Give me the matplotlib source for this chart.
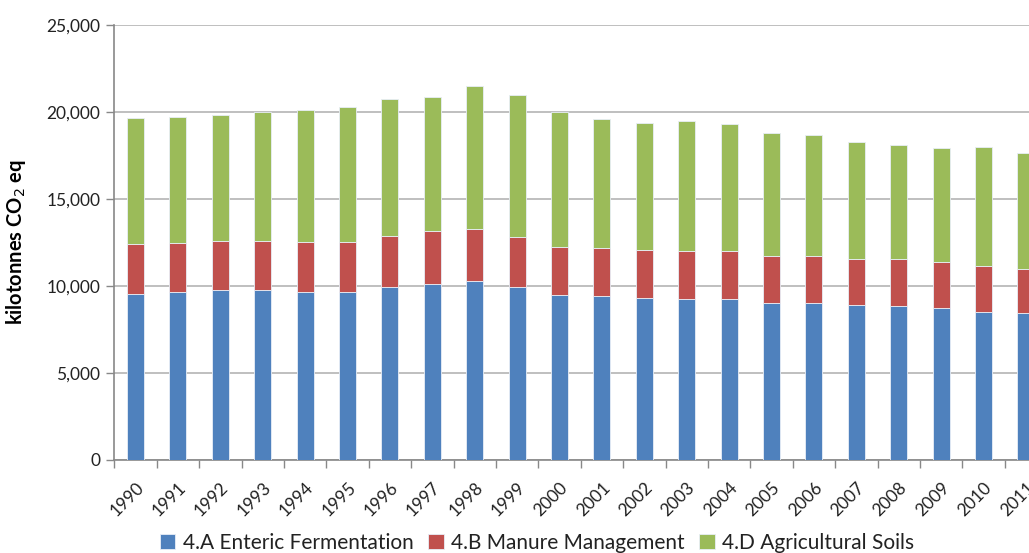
import matplotlib.pyplot as plt
import numpy as np

years = [str(y) for y in range(1990, 2012)]
enteric = [9557, 9674, 9751, 9751, 9674, 9674, 9923, 10134, 10268, 9923, 9464,
           9425, 9291, 9225, 9234, 9042, 9042, 8908, 8851, 8717, 8525, 8448]
manure_top = [12397, 12454, 12586, 12586, 12510, 12510, 12893, 13142, 13276, 12835, 12241,
              12184, 12050, 12000, 12011, 11743, 11743, 11552, 11552, 11360, 11169, 10977]
total = [19638, 19713, 19828, 19983, 20097, 20287, 20728, 20862, 21513, 20996, 19981,
         19578, 19387, 19510, 19330, 18812, 18678, 18295, 18103, 17912, 17969, 17644]

manure = [m - e for m, e in zip(manure_top, enteric)]
soils = [t - m for t, m in zip(total, manure_top)]

plt.rcParams['font.family'] = ['Lato', 'DejaVu Sans']

fig = plt.figure(figsize=(10.29, 5.53), dpi=100)
ax = fig.add_axes([114.3/1029, 93/553, 932.8/1029, 435/553])

x = np.arange(len(years))
w = 0.4
kw = dict(width=w, edgecolor='#e8eef7', linewidth=0.6, zorder=3)
ax.bar(x, enteric, color='#4F81BD', label='4.A Enteric Fermentation', **kw)
ax.bar(x, manure, bottom=enteric, color='#C0504D', label='4.B Manure Management', **kw)
ax.bar(x, soils, bottom=manure_top, color='#9BBB59', label='4.D Agricultural Soils', **kw)

ax.set_xlim(-0.5, len(years) - 0.5)
ax.set_ylim(0, 25000)
ax.set_yticks(range(0, 25001, 5000))
ax.set_yticklabels([f'{v:,}' for v in range(0, 25001, 5000)], fontsize=12.5, color='#222222')
ax.yaxis.grid(True, color='#b4b4b4', linewidth=1.2, zorder=0)
ax.set_axisbelow(True)

ax.set_xticks(x)
ax.set_xticklabels(years, rotation=45, ha='right', va='top', rotation_mode='anchor',
                   fontsize=12.5, color='#222222')
ax.tick_params(axis='x', length=0, pad=14)
ax.set_xticks(np.arange(-0.5, len(years)), minor=True)
ax.tick_params(axis='x', which='minor', length=6, color='#888888', width=1)
ax.tick_params(axis='y', length=6, color='#888888', width=1, pad=4)

for s in ['top', 'right']:
    ax.spines[s].set_visible(False)
for s in ['left', 'bottom']:
    ax.spines[s].set_color('#888888')
    ax.spines[s].set_linewidth(1.2)

ax.set_ylabel('kilotonnes CO$_2$ eq', fontsize=14.5, fontweight='bold')
ax.yaxis.set_label_coords(-0.093, 0.5)

fig.legend(loc='center', bbox_to_anchor=(537/1029, 1 - 543/553), ncol=3, frameon=False,
           fontsize=15, handlelength=0.75, handleheight=0.75, handletextpad=0.35,
           columnspacing=0.7, labelcolor='#222222')

fig.savefig('out.png', dpi=100)
